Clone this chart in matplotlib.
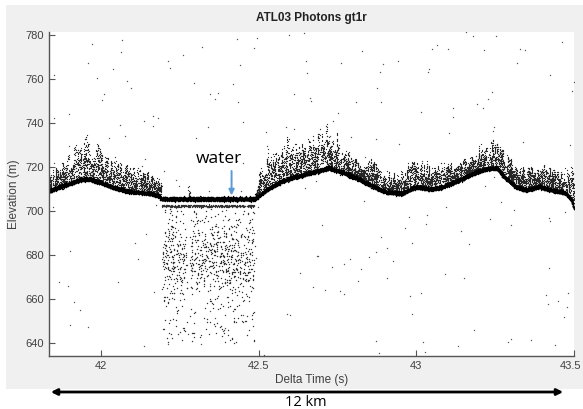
import numpy as np
import matplotlib
matplotlib.use('Agg')
import matplotlib.pyplot as plt
import matplotlib.transforms as mtransforms
from matplotlib.patches import Rectangle, FancyArrowPatch

# ground / water surface profile (delta time s, elevation m)
ground_t = [41.835, 41.886, 41.939, 41.965, 42.003, 42.034, 42.085, 42.139, 42.180, 42.193,
            42.487, 42.496, 42.534, 42.566, 42.598, 42.639, 42.670, 42.724, 42.765, 42.810,
            42.860, 42.905, 42.955, 42.977, 42.999, 43.041, 43.072, 43.136, 43.189, 43.231,
            43.256, 43.272, 43.316, 43.348, 43.389, 43.430, 43.474, 43.493, 43.500]
ground_elev = [709.3, 711.8, 714.5, 714.5, 712.7, 711.0, 709.0, 708.2, 707.3, 705.5,
               705.5, 706.5, 710.5, 713.0, 715.0, 716.4, 717.7, 719.5, 717.7, 715.0,
               711.4, 708.6, 708.0, 709.5, 711.0, 710.0, 710.5, 714.0, 717.7, 719.5,
               719.5, 716.4, 711.0, 709.5, 711.0, 709.5, 708.2, 705.0, 701.0]

# upper edge of the canopy returns
canopy_t = [41.835, 41.870, 41.900, 41.930, 41.950, 41.970, 41.990, 42.010, 42.035, 42.060,
            42.100, 42.140, 42.185, 42.487, 42.500, 42.520, 42.579, 42.588, 42.598, 42.645,
            42.670, 42.718, 42.746, 42.781, 42.819, 42.851, 42.898, 42.936, 42.993, 43.031,
            43.072, 43.136, 43.167, 43.208, 43.256, 43.294, 43.325, 43.500]
canopy_top = [719, 723, 726, 735, 737, 727, 732, 725, 729, 723,
              721, 719, 716, 706, 719, 729, 729, 741, 732, 732,
              737, 744, 737, 728, 723, 725, 719, 718, 725, 723,
              723, 723, 725, 732, 734, 725, 721, 721]

water_span = [42.193, 42.487]
water_level = 705.5
afterpulse_level = 702.3
subsurface_gap = [42.272, 42.283]

rng = np.random.default_rng(11)
t0, t1 = 41.835, 43.5
y0, y1 = 634, 781.5

def ground_at(t):
    return np.interp(t, ground_t, ground_elev)

# photons on the surface
tg = rng.uniform(t0, t1, 15000)
eg = ground_at(tg) + rng.normal(0, 0.4, tg.size)

# canopy photons, built column by column so the crowns look spiky
width = 0.003
bins = np.arange(t0, t1, width)
tc_list, ec_list = [], []
for b in bins:
    mid = b + width / 2
    if water_span[0] - 0.002 < mid < water_span[1] + 0.004:
        continue
    g = ground_at(mid)
    top = np.interp(mid, canopy_t, canopy_top)
    h = (top - g) * rng.uniform(0.35, 1.0)
    n = int(rng.integers(4, 30))
    tb = rng.uniform(b, b + width, n)
    tc_list.append(tb)
    ec_list.append(ground_at(tb) + h * rng.uniform(0, 1, n) ** 0.95)
tc = np.concatenate(tc_list)
ec = np.concatenate(ec_list)

# returns below the water surface
tw = rng.uniform(water_span[0], water_span[1], 900)
tw = tw[(tw < subsurface_gap[0]) | (tw > subsurface_gap[1])]
ew = np.where(rng.uniform(0, 1, tw.size) < 0.65,
              rng.normal(678, 8, tw.size), rng.uniform(640, 701, tw.size))
ew = np.clip(ew, 636, 701)

ta = rng.uniform(water_span[0], water_span[1], 500)
ea = afterpulse_level + rng.normal(0, 0.25, ta.size)

# small return on the water near 42.28 s
ts = rng.normal(42.279, 0.0015, 20)
es = water_level + rng.uniform(0, 6, ts.size)

# background noise
tn = rng.uniform(t0, t1, 230)
en = rng.uniform(y0, y1, 230)

fig = plt.figure(figsize=(5.83, 4.09), dpi=100)
fig.patch.set_facecolor('white')
fig.patches.append(Rectangle((6 / 583, 1 - 389 / 409), 577 / 583, 384 / 409,
                             transform=fig.transFigure, facecolor='#f0f0f0',
                             edgecolor='none', zorder=-10))

ax = fig.add_axes([49 / 583, 1 - 356 / 409, 525 / 583, 324 / 409])
ax.set_zorder(1)
ax.set_facecolor('white')
ax.scatter(tn, en, s=1.0, c='#555555', marker='o', linewidths=0)
ax.scatter(tw, ew, s=1.0, c='#333333', marker='o', linewidths=0)
ax.scatter(ta, ea, s=0.8, c='#333333', marker='o', linewidths=0)
ax.scatter(ts, es, s=0.8, c='#333333', marker='o', linewidths=0)
ax.scatter(tc, ec, s=0.8, c='#262626', marker='o', linewidths=0)
ax.scatter(tg, eg, s=1.0, c='black', marker='o', linewidths=0)

ax.set_xlim(t0, t1)
ax.set_ylim(y0, y1)
ax.set_xticks([42, 42.5, 43, 43.5])
ax.set_xticklabels(['42', '42.5', '43', '43.5'])
ax.set_yticks([640, 660, 680, 700, 720, 740, 760, 780])
ax.tick_params(direction='in', length=4, width=0.8, colors='#555555',
               labelcolor='#404040', labelsize=8)
for side in ['top', 'right']:
    ax.spines[side].set_visible(False)
for side in ['left', 'bottom']:
    ax.spines[side].set_color('#555555')
    ax.spines[side].set_linewidth(1.0)

font = 'Liberation Sans'
for lab in ax.get_xticklabels() + ax.get_yticklabels():
    lab.set_family(font)
last = ax.get_xticklabels()[-1]
last.set_transform(last.get_transform() +
                   mtransforms.ScaledTranslation(-3 / 100, 0, fig.dpi_scale_trans))

ax.set_title('ATL03 Photons gt1r', fontsize=8.5, fontweight='bold', family=font,
             color='#222222', pad=8)
ax.set_xlabel('Delta Time (s)', fontsize=8.5, family=font, color='#404040', labelpad=2)
ax.set_ylabel('Elevation (m)', fontsize=8.5, family=font, color='#404040', labelpad=4)

# water annotation
ax.text(42.373, 723.6, 'water', fontsize=12.5, family='Open Sans', ha='center',
        va='center', color='black')
ax.annotate('', xy=(42.414, 705.9), xytext=(42.414, 719.5),
            arrowprops=dict(arrowstyle='-|>', color='#5b9bd5', lw=1.4,
                            mutation_scale=8))

# 12 km scale arrow under the plot
fig.add_artist(FancyArrowPatch((48 / 583, 1 - 392 / 409), (566 / 583, 1 - 392 / 409),
                               transform=fig.transFigure, arrowstyle='<|-|>',
                               mutation_scale=9, lw=2, color='black'))
fig.text(306 / 583, 1 - 403 / 409, '12 km', fontsize=10.5, family='Open Sans',
         ha='center', va='center', color='black')

fig.savefig('out.png', dpi=100)
